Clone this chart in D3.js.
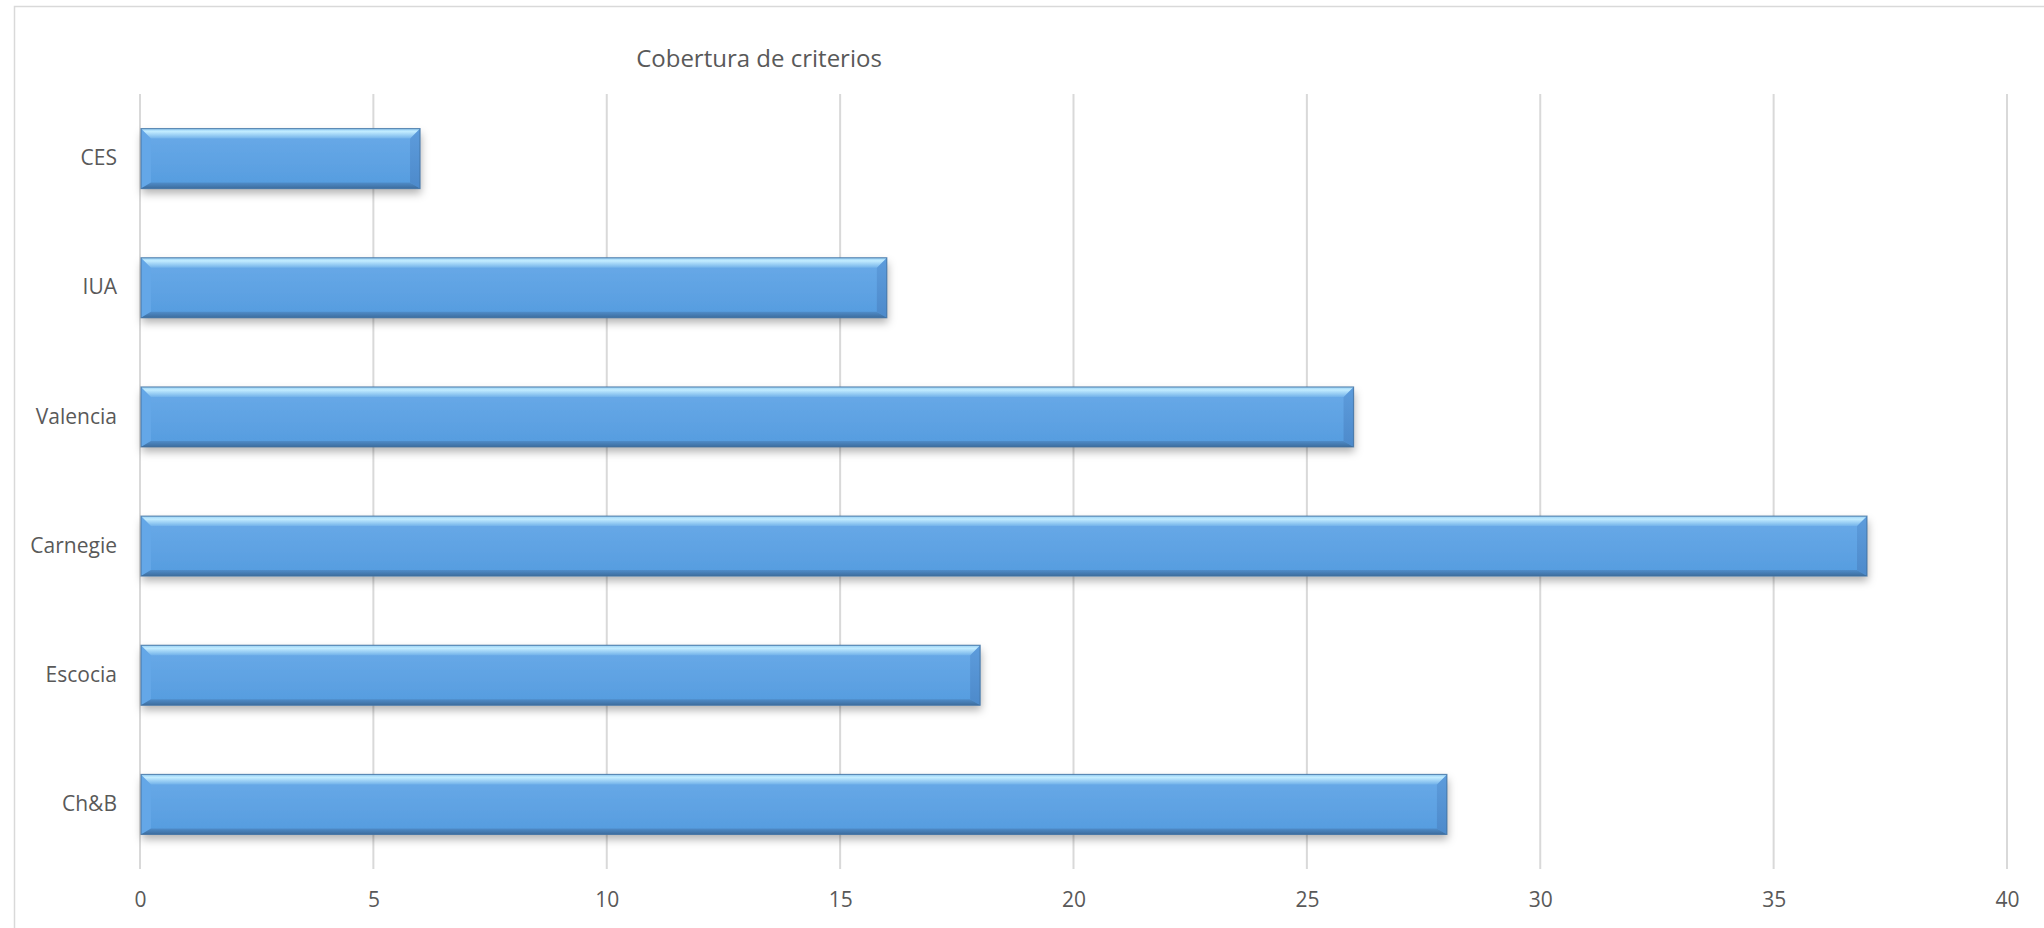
<!DOCTYPE html>
<html>
<head>
<meta charset="utf-8">
<script src="https://cdn.jsdelivr.net/npm/d3@7/dist/d3.min.js"></script>
<style>
  html, body { margin: 0; padding: 0; background: #ffffff; }
  svg { display: block; }
  text { font-family: "Open Sans", "DejaVu Sans", sans-serif; fill: #595959; }
</style>
</head>
<body>
<svg id="chart" width="2044" height="928"></svg>
<script>
// ---- data ----
const categories = ["CES", "IUA", "Valencia", "Carnegie", "Escocia", "Ch&B"];
const values = [6, 16, 26, 37, 18, 28];
const xTicks = [0, 5, 10, 15, 20, 25, 30, 35, 40];
const chartTitle = "Cobertura de criterios";

// ---- layout ----
const plot = { left: 140, right: 2007, top: 94, bottom: 869 };

const svg = d3.select("#chart");

// frame
svg.append("rect")
  .attr("x", 14.5).attr("y", 6.5)
  .attr("width", 2200).attr("height", 1200)
  .attr("fill", "#ffffff").attr("stroke", "#d9d9d9").attr("stroke-width", 1.5);

const defs = svg.append("defs");
const face = defs.append("linearGradient").attr("id", "face").attr("x1", 0).attr("y1", 0).attr("x2", 0).attr("y2", 1);
face.append("stop").attr("offset", "0%").attr("stop-color", "#6aaae8");
face.append("stop").attr("offset", "100%").attr("stop-color", "#559cdf");
const topG = defs.append("linearGradient").attr("id", "topbev").attr("x1", 0).attr("y1", 0).attr("x2", 0).attr("y2", 1);
topG.append("stop").attr("offset", "0%").attr("stop-color", "#95cef4");
topG.append("stop").attr("offset", "30%").attr("stop-color", "#c2ecff");
topG.append("stop").attr("offset", "100%").attr("stop-color", "#72b2ea");
const botG = defs.append("linearGradient").attr("id", "botbev").attr("x1", 0).attr("y1", 0).attr("x2", 0).attr("y2", 1);
botG.append("stop").attr("offset", "0%").attr("stop-color", "#4f8cc9");
botG.append("stop").attr("offset", "100%").attr("stop-color", "#3d6d9e");
const rightG = defs.append("linearGradient").attr("id", "rightbev").attr("x1", 0).attr("y1", 0).attr("x2", 0).attr("y2", 1);
rightG.append("stop").attr("offset", "0%").attr("stop-color", "#5d9cdc");
rightG.append("stop").attr("offset", "100%").attr("stop-color", "#4d8acb");
const shadow = defs.append("filter").attr("id", "shadow")
  .attr("x", "-5%").attr("y", "-20%").attr("width", "110%").attr("height", "170%");
shadow.append("feDropShadow").attr("dx", 1).attr("dy", 5).attr("stdDeviation", 4)
  .attr("flood-color", "#000000").attr("flood-opacity", 0.3);

// scales
const x = d3.scaleLinear().domain([0, 40]).range([plot.left, plot.right]);
const y = d3.scaleBand().domain(categories).range([plot.top, plot.bottom])
  .paddingInner(0.536).paddingOuter(0.268);

// gridlines
svg.append("g").selectAll("line").data(xTicks).join("line")
  .attr("x1", d => x(d)).attr("x2", d => x(d))
  .attr("y1", plot.top).attr("y2", plot.bottom)
  .attr("stroke", "#d9d9d9").attr("stroke-width", 2);

// x axis labels
const xAxis = d3.axisBottom(x).tickValues(xTicks).tickSize(0).tickPadding(0);
const gx = svg.append("g").attr("transform", `translate(0,${plot.bottom + 23})`).call(xAxis);
gx.select(".domain").remove();
gx.selectAll("text").attr("font-size", 21).attr("dy", "0.71em").style("fill", "#595959");

// y axis labels
const yAxis = d3.axisLeft(y).tickSize(0).tickPadding(23);
const gy = svg.append("g").attr("transform", `translate(${plot.left},0)`).call(yAxis);
gy.select(".domain").remove();
gy.selectAll("text").attr("font-size", 21).style("fill", "#595959");

// bars
const bars = svg.append("g").selectAll("g").data(categories.map((c, i) => ({ c, v: values[i] }))).join("g");
const bt = 10, bb = 6, bs = 10;
bars.each(function(d) {
  const g = d3.select(this);
  const x0 = x(0) + 1, x1 = x(d.v), y0 = y(d.c), y1 = y(d.c) + y.bandwidth();
  g.append("rect").attr("x", x0).attr("y", y0).attr("width", x1 - x0).attr("height", y1 - y0)
    .attr("fill", "url(#face)").attr("filter", "url(#shadow)");
  const poly = pts => pts.map(p => p.join(",")).join(" ");
  // left bevel
  g.append("polygon").attr("points", poly([[x0, y0], [x0 + bs, y0 + bt], [x0 + bs, y1 - bb], [x0, y1]]))
    .attr("fill", "#64a7e7");
  // right bevel
  g.append("polygon").attr("points", poly([[x1, y0], [x1, y1], [x1 - bs, y1 - bb], [x1 - bs, y0 + bt]]))
    .attr("fill", "url(#rightbev)");
  // top bevel
  g.append("polygon").attr("points", poly([[x0, y0], [x1, y0], [x1 - bs, y0 + bt], [x0 + bs, y0 + bt]]))
    .attr("fill", "url(#topbev)");
  // bottom bevel
  g.append("polygon").attr("points", poly([[x0, y1], [x1, y1], [x1 - bs, y1 - bb], [x0 + bs, y1 - bb]]))
    .attr("fill", "url(#botbev)");
  // outline
  g.append("rect").attr("x", x0).attr("y", y0).attr("width", x1 - x0).attr("height", y1 - y0)
    .attr("fill", "none").attr("stroke", "#41709f").attr("stroke-width", 1.2).attr("stroke-opacity", 0.75);
});

// title
svg.append("text").attr("x", 759).attr("y", 67).attr("text-anchor", "middle")
  .attr("font-size", 24).text(chartTitle);
</script>
</body>
</html>
